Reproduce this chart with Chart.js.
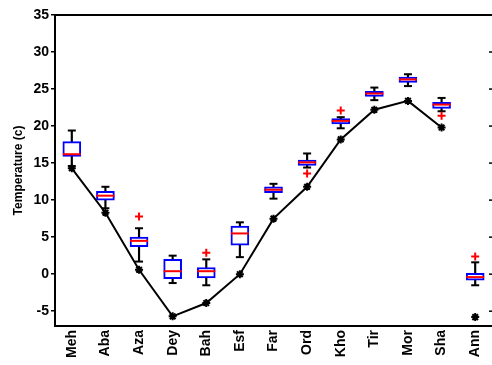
<!DOCTYPE html>
<html>
<head>
<meta charset="utf-8">
<script src="https://cdn.jsdelivr.net/npm/chart.js@4"></script>
<style>
    body { margin: 0; background: #fff; }
</style>
</head>
<body>
<canvas id="tempChart" width="492" height="365"></canvas>
<script>
// -------------------------------
// DATA
// -------------------------------
const months = ["Meh", "Aba", "Aza", "Dey", "Bah", "Esf", "Far", "Ord", "Kho", "Tir", "Mor", "Sha", "Ann"];

const whiskerHigh = [19.4, 11.8, 6.2, 2.5, 2.0, 7.0, 12.2, 16.3, 21.2, 25.2, 27.0, 23.8, 1.6];
const q3          = [17.9, 11.2, 5.0, 2.0, 0.9, 6.5, 11.8, 15.4, 21.0, 24.7, 26.6, 23.2, 0.1];
const medians     = [16.2, 10.6, 4.5, 0.4, 0.4, 5.5, 11.4, 15.1, 20.7, 24.4, 26.3, 22.9, -0.4];
const q1          = [15.9, 10.0, 3.7, -0.6, -0.5, 3.9, 11.0, 14.7, 20.3, 24.0, 25.9, 22.4, -0.8];
const whiskerLow  = [14.6, 8.9, 1.7, -1.2, -1.5, 2.3, 10.2, 14.4, 19.7, 23.5, 25.4, 22.0, -1.5];
const outliers    = [null, null, 7.8, null, 2.9, null, null, 13.6, 22.1, null, null, 21.4, 2.4];

const observed    = [14.3, 8.3, 0.6, -5.7, -3.9, 0.0, 7.5, 11.8, 18.2, 22.2, 23.4, 19.8, -5.8];

const yTicks = [-5, 0, 5, 10, 15, 20, 25, 30, 35];

// -------------------------------
// FRAME (top border + right ticks)
// -------------------------------
const framePlugin = {
    id: "frame",
    afterDraw(chart) {
        const ctx = chart.ctx;
        const a = chart.chartArea;
        const y = chart.scales.y;
        ctx.save();
        ctx.strokeStyle = "#000";
        ctx.lineWidth = 2;
        ctx.beginPath();
        ctx.moveTo(a.left, a.top);
        ctx.lineTo(a.right, a.top);
        ctx.stroke();
        ctx.lineWidth = 1.5;
        y.ticks.forEach(t => {
            const py = y.getPixelForValue(t.value);
            ctx.beginPath();
            ctx.moveTo(a.right - 3, py);
            ctx.lineTo(a.right, py);
            ctx.stroke();
        });
        ctx.restore();
    }
};

const font = { family: "Liberation Sans, Arial", size: 14, weight: "bold" };

new Chart(document.getElementById("tempChart"), {
    type: "bar",
    data: {
        labels: months,
        datasets: [
            {
                type: "line",
                label: "observed",
                data: observed,
                borderColor: "#000",
                borderWidth: 2,
                pointStyle: "star",
                pointRadius: 4,
                pointBorderWidth: 2,
                pointBorderColor: "#000",
                segment: {
                    borderColor: c => c.p1DataIndex === months.length - 1 ? "rgba(0,0,0,0)" : "#000"
                },
                order: 0
            },
            {
                type: "line",
                label: "outliers",
                data: outliers,
                showLine: false,
                pointStyle: "cross",
                pointRadius: 4,
                pointBorderWidth: 2,
                pointBorderColor: "#ff0000",
                order: 1
            },
            {
                type: "line",
                label: "median",
                data: medians,
                showLine: false,
                pointStyle: "line",
                pointRadius: 9,
                pointBorderWidth: 2,
                pointBorderColor: "#ff0000",
                order: 2
            },
            {
                type: "line",
                label: "capHigh",
                data: whiskerHigh,
                showLine: false,
                pointStyle: "line",
                pointRadius: 4,
                pointBorderWidth: 2,
                pointBorderColor: "#000",
                order: 3
            },
            {
                type: "line",
                label: "capLow",
                data: whiskerLow,
                showLine: false,
                pointStyle: "line",
                pointRadius: 4,
                pointBorderWidth: 2,
                pointBorderColor: "#000",
                order: 3
            },
            {
                label: "box",
                data: months.map((m, i) => [q1[i], q3[i]]),
                backgroundColor: "#fff",
                borderColor: "#0000ff",
                borderWidth: 2,
                borderSkipped: false,
                barThickness: 18,
                grouped: false,
                order: 4
            },
            {
                label: "whisker",
                data: months.map((m, i) => [whiskerLow[i], whiskerHigh[i]]),
                backgroundColor: "#000",
                borderWidth: 0,
                barThickness: 1.5,
                grouped: false,
                order: 5
            }
        ]
    },
    options: {
        responsive: false,
        animation: false,
        layout: { autoPadding: false, padding: { top: 15, right: 0, left: 0, bottom: 0 } },
        plugins: {
            legend: { display: false },
            tooltip: { enabled: false }
        },
        scales: {
            x: {
                offset: true,
                grid: { display: false, drawTicks: false },
                border: { display: true, color: "#000", width: 2 },
                ticks: { color: "#000", font: font, minRotation: 90, maxRotation: 90, padding: 4 },
                afterFit: s => { s.height = 39; s.paddingLeft = 0; s.paddingRight = 0; }
            },
            y: {
                min: -7,
                max: 35,
                afterBuildTicks: s => { s.ticks = yTicks.map(v => ({ value: v })); },
                grid: { drawOnChartArea: false, drawTicks: true, tickLength: 4, color: "#000", lineWidth: 1.5 },
                border: { display: true, color: "#000", width: 2 },
                ticks: { color: "#000", font: font, padding: 2 },
                title: {
                    display: true,
                    text: "Temperature (c)",
                    color: "#000",
                    font: { family: "Liberation Sans, Arial", size: 12, weight: "bold" },
                    padding: { top: 11, bottom: 0 }
                },
                afterFit: s => { s.width = 55; }
            }
        }
    },
    plugins: [framePlugin]
});
</script>
</body>
</html>
